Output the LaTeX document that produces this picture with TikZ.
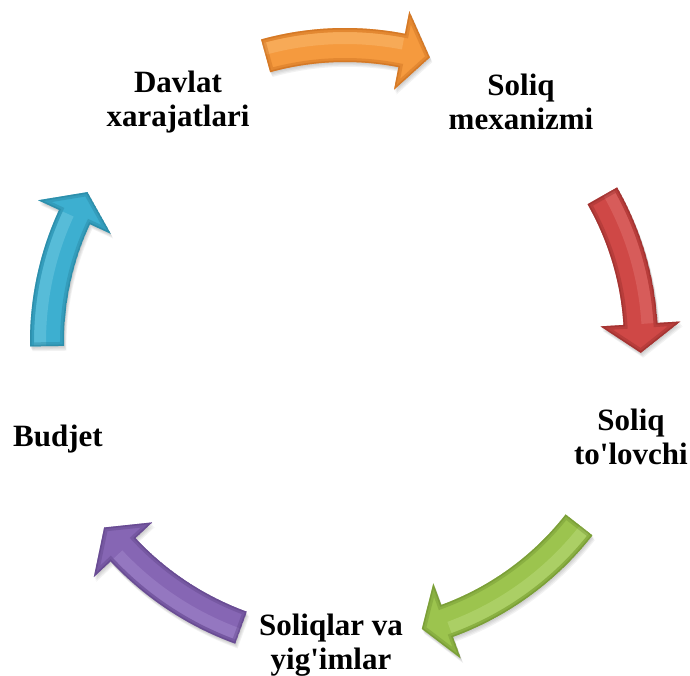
\documentclass[tikz,border=0pt]{standalone}
\usepackage{fontspec}
\setmainfont{Liberation Serif}[Ligatures=TeXOff]
\definecolor{orgmain}{HTML}{F59A3E}
\definecolor{orglight}{HTML}{FBC27E}
\definecolor{orgdark}{HTML}{C4681A}
\definecolor{redmain}{HTML}{CF4846}
\definecolor{redlight}{HTML}{E57C79}
\definecolor{reddark}{HTML}{8E2A28}
\definecolor{grnmain}{HTML}{9CC44E}
\definecolor{grnlight}{HTML}{C2E088}
\definecolor{grndark}{HTML}{6A8C2C}
\definecolor{purmain}{HTML}{8666B4}
\definecolor{purlight}{HTML}{AB92D2}
\definecolor{purdark}{HTML}{5A3F82}
\definecolor{aqumain}{HTML}{3DAFD0}
\definecolor{aqulight}{HTML}{80D0E6}
\definecolor{aqudark}{HTML}{257E98}
\tikzset{
  label/.style={font=\bfseries\fontsize{31}{34}\selectfont, align=center, inner sep=0pt, text=black}
}
% #1 radius, #2 tail angle, #3 head base angle, #4 tip angle, #5 colour prefix
\newcommand\cyclearrow[5]{%
  \pgfmathsetmacro\ro{#1+17}\pgfmathsetmacro\ri{#1-17}%
  \pgfmathsetmacro\ho{#1+40}\pgfmathsetmacro\hi{#1-40}%
  \pgfmathsetmacro\rh{#1+7}%
  \def\arrowpath{(#2:\ro pt) arc[start angle=#2,end angle=#3,radius=\ro pt] -- (#3:\ho pt) -- (#4:#1pt) -- (#3:\hi pt) -- (#3:\ri pt) arc[start angle=#3,end angle=#2,radius=\ri pt] -- cycle}%
  \foreach \s in {1,2,3,4}{\fill[black,opacity=0.05,shift={(0.6*\s pt,-1.2*\s pt)}] \arrowpath;}%
  \begin{scope}
    \clip \arrowpath;
    \fill[#5main] \arrowpath;
    \draw[#5light,line width=12pt,opacity=0.4] (#2:\rh pt) arc[start angle=#2,end angle=#3,radius=\rh pt];
    \draw[#5dark,line width=8pt,opacity=0.35] \arrowpath;
    \draw[#5dark,line width=3pt,opacity=0.45] \arrowpath;
  \end{scope}
}
\begin{document}
\begin{tikzpicture}[x=1pt,y=1pt]
\useasboundingbox (-345,-333) rectangle (345,342);
\cyclearrow{297}{105.5}{79}{73.4}{org}
\cyclearrow{296}{29.6}{3.5}{-2.1}{red}
\cyclearrow{297}{-38}{-69.9}{-75}{grn}
\cyclearrow{304}{250}{223.1}{217.6}{pur}
\cyclearrow{298}{180.8}{155.2}{149.8}{aqu}
\node[label] (davlat) at (-167,240) {Davlat\\xarajatlari};
\node[label] (mexan) at (176,240) {Soliq\\mexanizmi};
\node[label] (tolov) at (286,-95) {Soliq\\to'lovchi};
\node[label] (soliqlar) at (-14,-303) {Soliqlar va\\yig'imlar};
\node[label] (budjet) at (-287,-97) {Budjet};
\end{tikzpicture}
\end{document}
